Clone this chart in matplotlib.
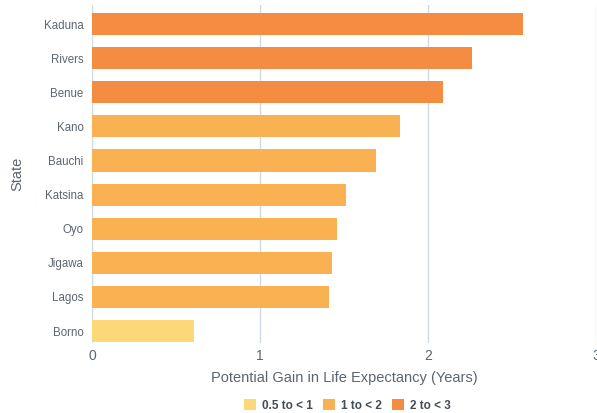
import matplotlib
matplotlib.use("Agg")
import matplotlib.pyplot as plt
from matplotlib.patches import Patch

states = ["Kaduna", "Rivers", "Benue", "Kano", "Bauchi", "Katsina", "Oyo", "Jigawa", "Lagos", "Borno"]
values = [2.565, 2.262, 2.089, 1.833, 1.690, 1.512, 1.458, 1.429, 1.411, 0.607]
categories = ["2 to < 3", "2 to < 3", "2 to < 3", "1 to < 2", "1 to < 2", "1 to < 2",
              "1 to < 2", "1 to < 2", "1 to < 2", "0.5 to < 1"]
legend_labels = ["0.5 to < 1", "1 to < 2", "2 to < 3"]
colors = {"0.5 to < 1": "#FDD878", "1 to < 2": "#F9B152", "2 to < 3": "#F48C42"}

plt.rcParams['font.family'] = ['Liberation Sans', 'DejaVu Sans']
text_color = "#5B6670"
grid_color = "#CBDCE6"

fig = plt.figure(figsize=(5.97, 4.13), dpi=100)
ax = fig.add_axes([0.1541, 0.1695, 0.8439, 0.8185])

n = len(states)
ypos = [n - 1 - i for i in range(n)]
ax.barh(ypos, values, height=0.65, color=[colors[c] for c in categories], zorder=3)

ax.set_xlim(0, 3)
ax.set_ylim(-0.35, n - 1 + 0.56)
ax.set_xticks([0, 1, 2, 3])
ax.set_xticklabels(["0", "1", "2", "3"])
ax.set_yticks(ypos)
ax.set_yticklabels(states)
for s in ax.spines.values():
    s.set_visible(False)
ax.xaxis.grid(True, color=grid_color, linewidth=1.0, zorder=0)
ax.tick_params(axis='both', length=0)
ax.tick_params(axis='y', labelsize=8.3, colors=text_color, pad=6)
ax.tick_params(axis='x', labelsize=10, colors=text_color, pad=4)
ax.set_xlabel("Potential Gain in Life Expectancy (Years)", fontsize=10.5, color=text_color, labelpad=6)
ax.set_ylabel("State", fontsize=10.5, color=text_color, labelpad=14)

handles = [Patch(facecolor=colors[l], edgecolor='none') for l in legend_labels]
leg = fig.legend(handles, legend_labels, loc='center', bbox_to_anchor=(0.582, 0.018),
                 ncol=3, frameon=False, handlelength=1.0, handleheight=1.0,
                 handletextpad=0.5, columnspacing=0.9,
                 prop={'size': 8.5, 'weight': 'bold'})
for t in leg.get_texts():
    t.set_color("#444C55")

fig.savefig("out.png", dpi=100)
